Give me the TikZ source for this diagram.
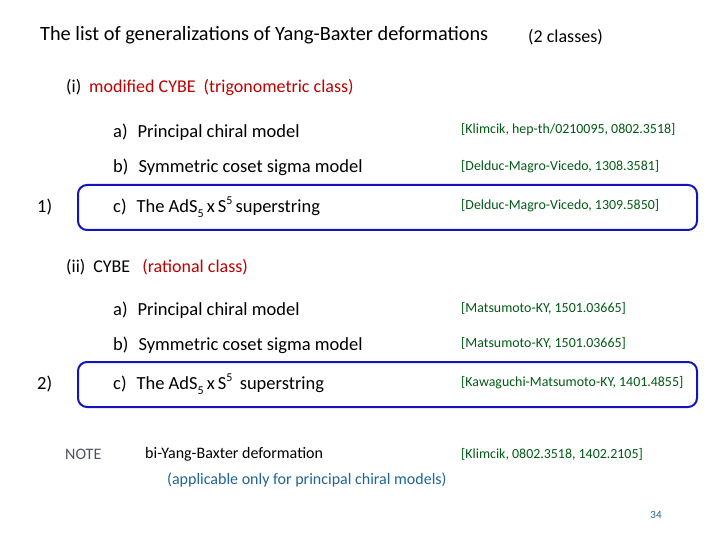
\documentclass[tikz,border=0pt]{standalone}
\usepackage{fontspec}
\setmainfont{Carlito}
\definecolor{refg}{RGB}{0,90,20}
\definecolor{boxb}{RGB}{20,20,190}
\definecolor{redt}{RGB}{190,0,0}
\definecolor{tealt}{RGB}{30,100,150}
\definecolor{greyt}{RGB}{80,80,100}
\newcommand{\mysub}[1]{\raisebox{-0.25em}{\fontsize{12}{12}\selectfont #1}}
\newcommand{\mysup}[1]{\raisebox{0.45em}{\fontsize{12}{12}\selectfont #1}}
\begin{document}
\begin{tikzpicture}[x=1pt,y=-1pt,
  t/.style={anchor=west,inner sep=0pt,font=\fontsize{20.3}{22}\selectfont},
  it/.style={anchor=west,inner sep=0pt,font=\fontsize{18.5}{20}\selectfont},
  rf/.style={anchor=west,inner sep=0pt,text=refg,font=\fontsize{13.9}{15}\selectfont},
  sec/.style={anchor=west,inner sep=0pt,font=\fontsize{18}{20}\selectfont},
  bx/.style={draw=boxb,line width=2pt,rounded corners=9pt}]
\useasboundingbox (0,0) rectangle (720,540);
\node[t] (title) at (40,35) {The list of generalizations of Yang-Baxter deformations};
\node[sec] (cls) at (528,37) {(2 classes)};
\node[sec] (s1) at (66,87) {(i)\hspace{8pt}\textcolor{redt}{modified CYBE\hspace{8pt}(trigonometric class)}};
\node[it] (a1) at (113,132) {a)\hspace{10pt}Principal chiral model};
\node[rf] (r1) at (461,130) {[Klimcik, hep-th/0210095, 0802.3518]};
\node[it] (b1) at (113,167) {b)\hspace{10pt}Symmetric coset sigma model};
\node[rf] (r2) at (461,167) {[Delduc-Magro-Vicedo, 1308.3581]};
\draw[bx] (78,185) rectangle (697,230);
\node[it] (n1) at (37,207) {1)};
\node[it] (c1) at (113,207) {c)\hspace{10pt}The AdS\mysub{5}\,x\,S\mysup{5}\,superstring};
\node[rf] (r3) at (461,206) {[Delduc-Magro-Vicedo, 1309.5850]};
\node[sec] (s2) at (66,267) {(ii)\hspace{8pt}CYBE\hspace{12pt}\textcolor{redt}{(rational class)}};
\node[it] (a2) at (113,310) {a)\hspace{10pt}Principal chiral model};
\node[rf] (r4) at (461,308) {[Matsumoto-KY, 1501.03665]};
\node[it] (b2) at (113,345) {b)\hspace{10pt}Symmetric coset sigma model};
\node[rf] (r5) at (461,343) {[Matsumoto-KY, 1501.03665]};
\draw[bx] (78,362) rectangle (697,407);
\node[it] (n2) at (37,384) {2)};
\node[it] (c2) at (113,384) {c)\hspace{10pt}The AdS\mysub{5}\,x\,S\mysup{5}\ \,superstring};
\node[rf] (r6) at (461,383) {[Kawaguchi-Matsumoto-KY, 1401.4855]};
\node[sec,text=greyt,font=\fontsize{16}{18}\selectfont] (note) at (65,454) {NOTE};
\node[anchor=west,inner sep=0pt,font=\fontsize{16}{18}\selectfont] (bi) at (145,454) {bi-Yang-Baxter deformation};
\node[rf] (r7) at (461,454) {[Klimcik, 0802.3518, 1402.2105]};
\node[anchor=west,inner sep=0pt,text=tealt,font=\fontsize{16}{18}\selectfont] (ap) at (167,480) {(applicable only for principal chiral models)};
\node[anchor=center,inner sep=0pt,text=tealt,font=\fontsize{11}{12}\selectfont] (pg) at (656,515) {34};
\end{tikzpicture}
\end{document}
